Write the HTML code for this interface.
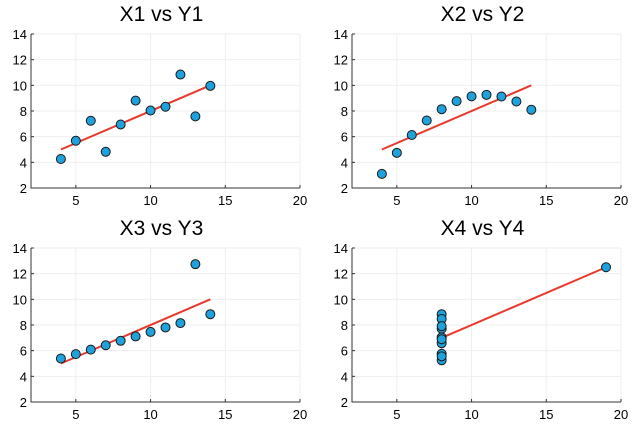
<!DOCTYPE html>
<html><head><meta charset="utf-8"><style>
html,body{margin:0;padding:0;background:#fff;}
svg{display:block;font-family:"Liberation Sans",sans-serif;}
</style></head><body>
<svg id="s" width="640" height="427" xmlns="http://www.w3.org/2000/svg"></svg>
<script>
var s=document.getElementById('s');
var x1=[10,8,13,9,11,14,6,4,12,7,5];
var x4=[8,8,8,8,8,8,8,19,8,8,8];
var P=[
 {t:"X1 vs Y1",L:31,T:34,x:x1,y:[8.04,6.95,7.58,8.81,8.33,9.96,7.24,4.26,10.84,4.82,5.68],l:[4,14]},
 {t:"X2 vs Y2",L:352,T:34,x:x1,y:[9.14,8.14,8.74,8.77,9.26,8.10,6.13,3.10,9.13,7.26,4.74],l:[4,14]},
 {t:"X3 vs Y3",L:31,T:248,x:x1,y:[7.46,6.77,12.74,7.11,7.81,8.84,6.08,5.39,8.15,6.42,5.73],l:[4,14]},
 {t:"X4 vs Y4",L:352,T:248,x:x4,y:[6.58,5.76,7.71,8.84,8.47,7.04,5.25,12.50,5.56,7.91,6.89],l:[8,19]}
];
var h='';
P.forEach(function(p){
 var W=269,H=154;
 function X(v){return p.L+(v-2)*W/18;}
 function Y(v){return p.T+H-(v-2)*H/12;}
 h+='<text x="'+(p.L+W/2-4)+'" y="'+(p.T-13)+'" font-size="21" text-anchor="middle">'+p.t+'</text>';
 for(var v=4;v<=14;v+=2){h+='<line x1="'+p.L+'" x2="'+(p.L+W)+'" y1="'+Y(v)+'" y2="'+Y(v)+'" stroke="#eee" stroke-width="1"/>';}
 for(var v=5;v<=20;v+=5){h+='<line x1="'+X(v)+'" x2="'+X(v)+'" y1="'+p.T+'" y2="'+(p.T+H)+'" stroke="#eee" stroke-width="1"/>';
  h+='<text x="'+X(v)+'" y="'+(p.T+H+17)+'" font-size="13" text-anchor="middle">'+v+'</text>';
  h+='<line x1="'+X(v)+'" x2="'+X(v)+'" y1="'+(p.T+H)+'" y2="'+(p.T+H-3)+'" stroke="#333"/>';}
 for(var v=2;v<=14;v+=2){h+='<text x="'+(p.L-4)+'" y="'+(Y(v)+5)+'" font-size="13" text-anchor="end">'+v+'</text>';
  h+='<line x1="'+p.L+'" x2="'+(p.L+3)+'" y1="'+Y(v)+'" y2="'+Y(v)+'" stroke="#333"/>';}
 h+='<path d="M'+p.L+' '+p.T+'V'+(p.T+H)+'H'+(p.L+W)+'" fill="none" stroke="#333" stroke-width="1"/>';
 h+='<line x1="'+X(p.l[0])+'" y1="'+Y(3+0.5*p.l[0])+'" x2="'+X(p.l[1])+'" y2="'+Y(3+0.5*p.l[1])+'" stroke="#e8392c" stroke-width="2"/>';
 for(var i=0;i<11;i++){h+='<circle cx="'+X(p.x[i])+'" cy="'+Y(p.y[i])+'" r="4.5" fill="#1fa1dc" stroke="#1a1a1a" stroke-width="1"/>';}
});
s.innerHTML=h;
</script>
</body></html>
